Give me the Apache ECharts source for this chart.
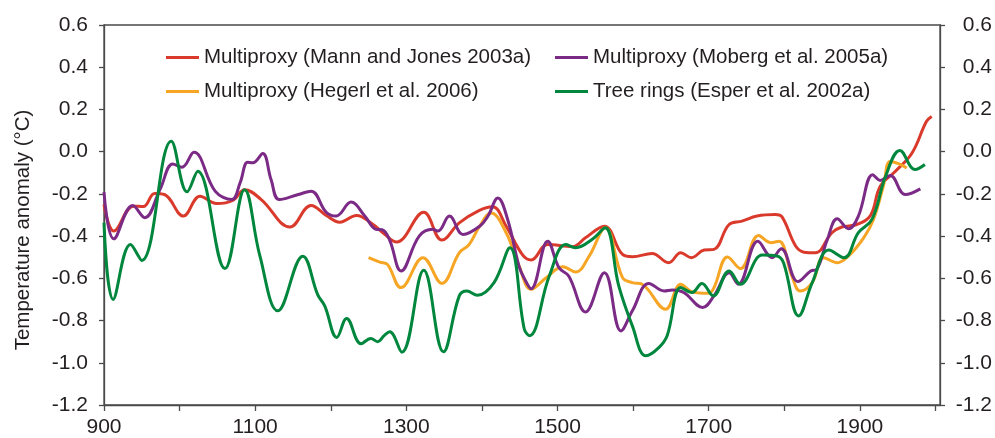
<!DOCTYPE html>
<html>
<head>
<meta charset="utf-8">
<script src="https://cdn.jsdelivr.net/npm/echarts@6/dist/echarts.min.js"></script>
<style>
  html, body { margin: 0; padding: 0; background: #ffffff; }
  #chart { width: 995px; height: 438px; }
</style>
</head>
<body>
<div id="chart"></div>
<script>
// Reconstructed Northern Hemisphere temperature anomalies (°C), smoothed.
const mannYears = [900, 913, 939, 952, 967, 980, 1005, 1027, 1049, 1071, 1086, 1108, 1146, 1174, 1194, 1212, 1234, 1256, 1271, 1287, 1323, 1347, 1370, 1396, 1414, 1432, 1454, 1465, 1487, 1520, 1537, 1562, 1586, 1599, 1625, 1647, 1663, 1677, 1694, 1707, 1727, 1744, 1764, 1788, 1797, 1815, 1826, 1841, 1863, 1876, 1896, 1914, 1927, 1947, 1969, 1988, 1995];
const mannValues = [-0.25, -0.376, -0.258, -0.26, -0.198, -0.203, -0.305, -0.211, -0.246, -0.23, -0.18, -0.227, -0.357, -0.255, -0.302, -0.334, -0.302, -0.345, -0.39, -0.428, -0.287, -0.419, -0.337, -0.279, -0.261, -0.353, -0.49, -0.513, -0.44, -0.45, -0.408, -0.353, -0.487, -0.498, -0.482, -0.526, -0.479, -0.502, -0.466, -0.463, -0.345, -0.329, -0.305, -0.298, -0.309, -0.447, -0.476, -0.479, -0.384, -0.357, -0.345, -0.302, -0.164, -0.093, -0.006, 0.143, 0.167];

const mobergYears = [900, 913, 938, 954, 974, 991, 1003, 1019, 1047, 1069, 1080, 1090, 1097, 1110, 1121, 1132, 1157, 1174, 1194, 1207, 1227, 1245, 1260, 1268, 1278, 1293, 1317, 1335, 1342, 1357, 1375, 1397, 1408, 1421, 1434, 1449, 1456, 1465, 1487, 1502, 1515, 1537, 1562, 1584, 1599, 1621, 1641, 1652, 1667, 1692, 1707, 1727, 1739, 1765, 1784, 1796, 1818, 1835, 1843, 1857, 1870, 1885, 1898, 1917, 1927, 1940, 1960, 1980];
const mobergValues = [-0.192, -0.413, -0.255, -0.313, -0.18, -0.058, -0.074, -0.003, -0.187, -0.227, -0.148, -0.05, -0.053, -0.009, -0.132, -0.227, -0.203, -0.187, -0.287, -0.305, -0.239, -0.305, -0.368, -0.37, -0.42, -0.565, -0.4, -0.368, -0.376, -0.305, -0.392, -0.353, -0.305, -0.219, -0.321, -0.542, -0.6, -0.649, -0.424, -0.55, -0.59, -0.759, -0.573, -0.849, -0.754, -0.624, -0.66, -0.655, -0.667, -0.738, -0.683, -0.573, -0.628, -0.424, -0.502, -0.46, -0.615, -0.565, -0.557, -0.416, -0.318, -0.365, -0.305, -0.109, -0.136, -0.113, -0.203, -0.176];

const hegerlYears = [1250, 1265, 1275, 1293, 1322, 1347, 1370, 1383, 1397, 1412, 1432, 1449, 1465, 1485, 1507, 1524, 1542, 1563, 1586, 1599, 1612, 1643, 1663, 1678, 1700, 1707, 1725, 1742, 1766, 1782, 1793, 1810, 1821, 1837, 1852, 1870, 1885, 1905, 1918, 1931, 1940, 1951, 1962];
const hegerlValues = [-0.502, -0.523, -0.534, -0.644, -0.502, -0.624, -0.479, -0.44, -0.353, -0.29, -0.384, -0.54, -0.652, -0.597, -0.545, -0.57, -0.494, -0.36, -0.597, -0.62, -0.628, -0.746, -0.628, -0.664, -0.671, -0.644, -0.499, -0.554, -0.397, -0.431, -0.424, -0.589, -0.66, -0.62, -0.502, -0.526, -0.494, -0.408, -0.321, -0.164, -0.046, -0.057, -0.077];

const esperYears = [900, 912, 935, 950, 989, 1010, 1024, 1060, 1086, 1106, 1130, 1163, 1183, 1192, 1208, 1221, 1240, 1253, 1262, 1271, 1278, 1294, 1323, 1349, 1370, 1380, 1394, 1416, 1437, 1456, 1463, 1489, 1511, 1524, 1546, 1563, 1581, 1599, 1617, 1634, 1645, 1663, 1678, 1691, 1706, 1727, 1742, 1771, 1790, 1799, 1819, 1837, 1859, 1879, 1898, 1916, 1934, 1953, 1973, 1986];
const esperValues = [-0.337, -0.7, -0.44, -0.515, 0.049, -0.19, -0.093, -0.554, -0.18, -0.49, -0.754, -0.495, -0.68, -0.73, -0.88, -0.79, -0.91, -0.885, -0.9, -0.87, -0.853, -0.95, -0.562, -0.948, -0.683, -0.66, -0.68, -0.62, -0.455, -0.84, -0.872, -0.59, -0.44, -0.455, -0.415, -0.36, -0.636, -0.825, -0.967, -0.928, -0.872, -0.644, -0.667, -0.624, -0.683, -0.565, -0.628, -0.49, -0.494, -0.526, -0.778, -0.62, -0.466, -0.502, -0.384, -0.321, -0.117, 0.006, -0.085, -0.061];

const seriesNames = [
  'Multiproxy (Mann and Jones 2003a)',
  'Multiproxy (Moberg et al. 2005a)',
  'Multiproxy (Hegerl et al. 2006)',
  'Tree rings (Esper et al. 2002a)'
];
const xTickValues = [900, 1000, 1100, 1200, 1300, 1400, 1500, 1600, 1700, 1800, 1900, 2000];
const xLabelValues = [900, 1100, 1300, 1500, 1700, 1900];

const colors = {
  mann: '#d93a2b',
  moberg: '#7b2a86',
  hegerl: '#f6a624',
  esper: '#00873d'
};

const FONT = '"Liberation Sans", Arial, Helvetica, sans-serif';
const TEXT = '#231f20';
const AXIS = '#4a4a4a';

function pairs(xs, ys) {
  return xs.map((x, i) => [x, ys[i]]);
}

function lineSeries(name, xs, ys, color) {
  return {
    name: name,
    type: 'line',
    data: pairs(xs, ys),
    smooth: 0.4,
    showSymbol: false,
    symbol: 'none',
    lineStyle: { color: color, width: 3 },
    itemStyle: { color: color },
    silent: true,
    animation: false
  };
}

function legendAt(name, left, top) {
  return {
    data: [name],
    left: left,
    top: top,
    padding: 0,
    icon: 'rect',
    itemWidth: 33,
    itemHeight: 3,
    itemGap: 0,
    selectedMode: false,
    textStyle: { fontFamily: FONT, fontSize: 20.5, color: TEXT, padding: [0, 0, 0, 0] }
  };
}

const yAxisCommon = {
  type: 'value',
  min: -1.2,
  max: 0.6,
  interval: 0.2,
  splitLine: { show: false },
  axisLine: { show: true, lineStyle: { color: AXIS, width: 1.3 } },
  axisTick: { show: true, inside: false, length: 5, lineStyle: { color: AXIS, width: 1.3 } }
};

const chart = echarts.init(document.getElementById('chart'), null, { renderer: 'canvas' });

chart.setOption({
  backgroundColor: '#ffffff',
  animation: false,
  grid: {
    left: 104,
    right: 53,
    top: 25,
    bottom: 32,
    show: true,
    borderColor: AXIS,
    borderWidth: 1.3,
    backgroundColor: 'transparent'
  },
  legend: [
    legendAt(seriesNames[0], 166, 47),
    legendAt(seriesNames[1], 555, 47),
    legendAt(seriesNames[2], 166, 81),
    legendAt(seriesNames[3], 555, 81)
  ],
  xAxis: {
    type: 'value',
    min: 900,
    max: 2006,
    interval: 100,
    splitLine: { show: false },
    axisLine: { show: true, onZero: false, lineStyle: { color: AXIS, width: 1.3 } },
    axisTick: { show: true, length: 6, customValues: xTickValues, lineStyle: { color: AXIS, width: 1.3 } },
    axisLabel: {
      customValues: xLabelValues,
      margin: 12,
      fontFamily: FONT,
      fontSize: 21,
      color: TEXT,
      formatter: v => String(v)
    }
  },
  yAxis: [
    Object.assign({}, yAxisCommon, {
      position: 'left',
      name: 'Temperature anomaly (°C)',
      nameLocation: 'middle',
      nameGap: 70,
      nameRotate: 90,
      nameTextStyle: { fontFamily: FONT, fontSize: 20.5, color: TEXT, padding: [0, 30, 0, 0] },
      axisLabel: {
        margin: 16,
        fontFamily: FONT,
        fontSize: 21,
        color: TEXT,
        formatter: v => v.toFixed(1)
      }
    }),
    Object.assign({}, yAxisCommon, {
      position: 'right',
      axisLabel: {
        margin: 52,
        align: 'right',
        fontFamily: FONT,
        fontSize: 21,
        color: TEXT,
        formatter: v => v.toFixed(1)
      }
    })
  ],
  series: [
    lineSeries(seriesNames[0], mannYears, mannValues, colors.mann),
    lineSeries(seriesNames[2], hegerlYears, hegerlValues, colors.hegerl),
    lineSeries(seriesNames[1], mobergYears, mobergValues, colors.moberg),
    lineSeries(seriesNames[3], esperYears, esperValues, colors.esper)
  ]
});
</script>
</body>
</html>
